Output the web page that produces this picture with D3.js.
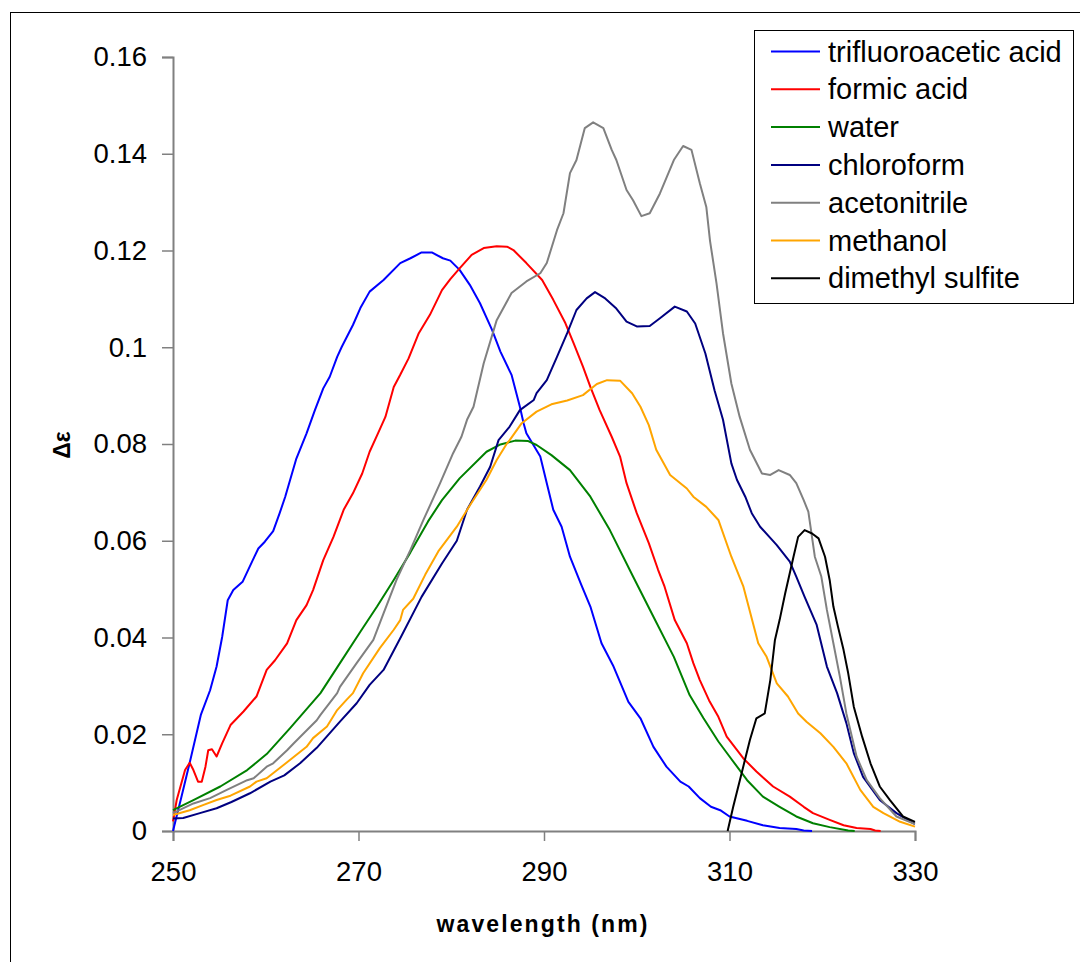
<!DOCTYPE html>
<html><head><meta charset="utf-8">
<script src="https://cdn.jsdelivr.net/npm/d3@7"></script>
<style>body{margin:0;background:#fff}svg{display:block}text{font-family:"Liberation Sans",Arial,sans-serif}</style>
</head><body>
<svg id="c" width="1080" height="962"></svg>
<script>
const xTicks = [250, 270, 290, 310, 330];
const yTicks = [0, 0.02, 0.04, 0.06, 0.08, 0.1, 0.12, 0.14, 0.16];
const yTickLabels = ["0", "0.02", "0.04", "0.06", "0.08", "0.1", "0.12", "0.14", "0.16"];
const seriesNames = ["trifluoroacetic acid", "formic acid", "water", "chloroform", "acetonitrile", "methanol", "dimethyl sulfite"];
const seriesColors = ["#0000FF", "#FF0000", "#008000", "#000080", "#808080", "#FFA500", "#000000"];

const trifluoroaceticAcid = [[250,0],[250.9,0.007],[251.8,0.0141],[253,0.024],[254,0.0291],[254.7,0.034],[255.3,0.0401],[255.9,0.0477],[256.5,0.0498],[257.5,0.0515],[258.6,0.056],[259.2,0.0584],[259.9,0.0598],[260.8,0.062],[261.5,0.0657],[262.1,0.0691],[263.3,0.077],[264.4,0.0822],[265.3,0.087],[266.2,0.0915],[266.9,0.0939],[267.7,0.098],[268.2,0.1001],[269.4,0.1046],[270.2,0.1081],[271.2,0.1115],[272.7,0.1139],[274.5,0.1174],[275.6,0.1184],[276.8,0.1196],[277.9,0.1196],[279.1,0.1184],[279.9,0.1179],[280.9,0.116],[282,0.1129],[283.1,0.1091],[284.4,0.1036],[285.3,0.0991],[286.5,0.0943],[287.4,0.0877],[287.8,0.0843],[288.1,0.0822],[289.6,0.0774],[290.3,0.0719],[291,0.0664],[291.9,0.0629],[292.8,0.0567],[294,0.051],[295,0.0464],[296.2,0.0388],[297.5,0.034],[299.1,0.0267],[300.4,0.0233],[301.8,0.0174],[303.2,0.0133],[304.7,0.0102],[305.6,0.0092],[306.8,0.0068],[308,0.005],[309,0.0043],[310,0.003],[311.9,0.0021],[313.6,0.0012],[315.4,0.0006],[317.2,0.0004],[318,0.0001],[318.9,0]];

const formicAcid = [[250,0.002],[250.4,0.0064],[251.3,0.0126],[251.8,0.0141],[252.2,0.0126],[252.7,0.0102],[253.1,0.0102],[253.5,0.0133],[253.8,0.0167],[254.2,0.0169],[254.7,0.0154],[255.3,0.0181],[256.2,0.0219],[257.6,0.0247],[259,0.0278],[260.1,0.0333],[261,0.0353],[262.3,0.0388],[263.3,0.0436],[264.4,0.0467],[265.1,0.0498],[266.2,0.056],[267.3,0.0608],[268.4,0.0664],[269.4,0.0698],[270.4,0.0739],[271.2,0.0784],[272.1,0.0822],[272.9,0.0856],[273.8,0.0918],[274.5,0.0943],[275.4,0.0977],[276.5,0.1029],[277.7,0.1067],[279,0.1118],[279.9,0.1141],[280.9,0.1163],[282.2,0.1191],[283.5,0.1205],[284.9,0.1209],[286,0.1208],[286.7,0.1201],[288.1,0.1174],[289.8,0.1139],[291,0.1098],[292.3,0.105],[293.2,0.1008],[294.2,0.096],[295,0.0918],[296,0.087],[297.3,0.0815],[298.2,0.0774],[298.9,0.0719],[300,0.0657],[301.3,0.0595],[302.3,0.054],[303,0.0505],[304.1,0.0436],[305.4,0.0388],[306.1,0.0347],[306.8,0.0312],[307.8,0.027],[308.8,0.0236],[309.7,0.0195],[311.5,0.015],[312.9,0.0123],[314.7,0.0092],[316.5,0.0071],[318,0.005],[319,0.0037],[320.8,0.0023],[322.3,0.0012],[323.7,0.0006],[325.2,0.0004],[325.7,0.0001],[326.3,0]];

const water = [[250,0.0043],[252.2,0.0064],[255.1,0.0092],[258,0.0126],[260.1,0.0159],[262.6,0.0212],[265.9,0.0285],[268,0.0347],[270.2,0.0412],[272,0.0464],[273.8,0.0519],[275.6,0.0576],[277.5,0.064],[279,0.0684],[280.9,0.0729],[283.8,0.0784],[285.3,0.0799],[286.9,0.0807],[288.3,0.0806],[289.2,0.0798],[290.8,0.0777],[292.8,0.0746],[295,0.0691],[297.1,0.0622],[299.6,0.0526],[301.8,0.0443],[304,0.036],[305.7,0.0281],[307.2,0.0233],[308.8,0.0185],[310,0.0154],[311.9,0.0105],[313.6,0.0071],[315.4,0.005],[317.2,0.003],[319,0.0016],[320.8,0.0008],[322.8,0.0001],[323.5,0]];

const chloroform = [[250,0.0026],[251.1,0.0027],[252.9,0.0037],[254.7,0.0047],[256.3,0.006],[258.3,0.0078],[260.5,0.0102],[262,0.0115],[263.7,0.014],[265.5,0.0172],[268,0.0226],[269.8,0.0264],[271.2,0.0302],[272.7,0.0333],[274.6,0.0402],[276.8,0.0484],[279,0.0553],[280.6,0.06],[281.7,0.0664],[283.1,0.0712],[284.2,0.0753],[285.1,0.0808],[286.3,0.0836],[287.4,0.087],[288.9,0.0891],[289.2,0.0905],[290.3,0.0932],[291.4,0.098],[292.5,0.1029],[293.5,0.1077],[294.6,0.1101],[295.5,0.1114],[296.6,0.1101],[297.8,0.108],[298.9,0.1053],[300,0.1043],[301.4,0.1044],[302.5,0.106],[304.1,0.1084],[305.4,0.1074],[306.3,0.1049],[307.4,0.0987],[308.4,0.091],[309.3,0.085],[310.2,0.076],[310.8,0.0726],[311.7,0.0691],[312.4,0.0657],[313.3,0.0629],[315.1,0.0591],[316.5,0.0557],[317.2,0.0526],[318.1,0.0484],[319.4,0.0426],[320.5,0.034],[321.6,0.0285],[322.6,0.0223],[323.4,0.0161],[324.4,0.0112],[326.2,0.0064],[328,0.0037],[329.8,0.0016],[330,0.0015]];

const acetonitrile = [[250,0.0037],[252.2,0.0057],[254,0.0068],[255.8,0.0085],[258,0.0105],[258.7,0.0109],[260.1,0.0133],[260.8,0.014],[262.3,0.0167],[263,0.0181],[264.1,0.0202],[265.5,0.0229],[265.9,0.024],[267.7,0.0285],[268,0.0298],[269.8,0.0347],[271.6,0.0395],[272.7,0.045],[274.1,0.0519],[275.6,0.0581],[277,0.0643],[278.8,0.0719],[280.2,0.0781],[281.1,0.0815],[281.7,0.085],[282.4,0.0877],[283.5,0.0967],[284.9,0.1056],[286.5,0.1112],[288.1,0.1136],[289.6,0.1153],[290.3,0.1174],[291.4,0.1242],[292.1,0.1277],[292.8,0.136],[293.5,0.1387],[294.4,0.1453],[295.3,0.1465],[296.4,0.1453],[297.3,0.1408],[297.8,0.1387],[298.9,0.1325],[299.6,0.1304],[300.5,0.1271],[301.4,0.1277],[302.5,0.1318],[304,0.1387],[305,0.1416],[305.9,0.1408],[306.8,0.1339],[307.5,0.129],[307.9,0.122],[308.6,0.1132],[309.3,0.1029],[310.2,0.0925],[311.1,0.0856],[312.2,0.0788],[313.5,0.0739],[314.4,0.0736],[315.3,0.0746],[316.5,0.0736],[317.2,0.0719],[318,0.0684],[318.5,0.066],[319.2,0.0567],[319.9,0.0526],[320.5,0.0457],[321.2,0.0388],[321.9,0.0319],[322.6,0.0243],[323.7,0.0154],[324.8,0.0105],[326.2,0.0068],[328,0.003],[329.8,0.0016],[330,0.0015]];

const methanol = [[250,0.0033],[251.8,0.0043],[253.3,0.0054],[254.7,0.0064],[256.2,0.0073],[258.3,0.0092],[259,0.0102],[260.1,0.0109],[262.3,0.0142],[264.4,0.0174],[265.1,0.0192],[266.6,0.0216],[267.7,0.025],[268.7,0.0271],[269.4,0.0285],[270.5,0.0326],[272.3,0.0378],[273.8,0.0416],[274.5,0.0436],[274.8,0.0457],[275.9,0.048],[277.2,0.053],[278.6,0.0578],[280.6,0.0629],[282,0.0673],[283.8,0.0726],[284.9,0.0767],[286,0.0801],[286.3,0.0808],[287.6,0.0843],[289.2,0.0867],[290.8,0.0882],[292.5,0.089],[294.2,0.0901],[295.7,0.0924],[296.8,0.0932],[298.2,0.0931],[299.5,0.0905],[300.4,0.0877],[301.3,0.0839],[302.1,0.0788],[303.6,0.0736],[304.7,0.0719],[305.4,0.0708],[306.1,0.0691],[307.5,0.067],[308.8,0.0643],[310.2,0.0567],[311.5,0.0505],[313.1,0.0388],[314,0.036],[315.1,0.0305],[316.3,0.0278],[317.4,0.0243],[318.3,0.0226],[319.8,0.0202],[321.2,0.0174],[322.6,0.014],[324.1,0.0085],[325.5,0.005],[326.6,0.0037],[328.4,0.0019],[330,0.0009]];

const dimethylSulfite = [[309.8,0],[310.4,0.005],[311.3,0.0119],[312.2,0.0188],[312.9,0.0233],[313.8,0.0243],[314.4,0.0312],[314.9,0.0395],[315.4,0.0436],[316,0.0491],[316.9,0.0567],[317.4,0.0608],[318.1,0.0622],[318.9,0.0615],[319.6,0.0605],[320.3,0.0567],[320.8,0.0519],[321.2,0.0464],[321.7,0.0422],[322.3,0.0374],[322.8,0.0326],[323.4,0.0257],[324.3,0.0195],[325.2,0.014],[326.2,0.0092],[327.3,0.0064],[328.7,0.003],[330,0.0019]];

const allSeries = [trifluoroaceticAcid, formicAcid, water, chloroform, acetonitrile, methanol, dimethylSulfite];

const svg = d3.select("#c");
// outer frame
svg.append("rect").attr("x", 10.5).attr("y", 12.5).attr("width", 1100).attr("height", 1000)
  .attr("fill", "#fff").attr("stroke", "#000").attr("stroke-width", 1);

const x = d3.scaleLinear().domain([250, 330]).range([173, 915]);
const y = d3.scaleLinear().domain([0, 0.16]).range([831, 57]);

const axisColor = "#808080";
// y axis
const ya = svg.append("g").attr("transform", "translate(173,0)")
  .call(d3.axisLeft(y).tickValues(yTicks).tickSize(11).tickPadding(15)
    .tickFormat((d, i) => yTickLabels[i]));
ya.select(".domain").attr("stroke", axisColor).attr("stroke-width", 2);
ya.selectAll(".tick line").attr("stroke", axisColor).attr("stroke-width", 1.5);
ya.selectAll(".tick text").attr("font-size", 27.5).attr("fill", "#000")
  .attr("font-family", "'Liberation Sans', Arial, sans-serif");

// x axis
const xa = svg.append("g").attr("transform", "translate(0,831)")
  .call(d3.axisBottom(x).tickValues(xTicks).tickSize(10).tickPadding(20).tickFormat(d3.format("d")));
xa.select(".domain").attr("stroke", axisColor).attr("stroke-width", 2);
xa.selectAll(".tick line").attr("stroke", axisColor).attr("stroke-width", 1.5);
xa.selectAll(".tick text").attr("font-size", 27.5).attr("fill", "#000")
  .attr("font-family", "'Liberation Sans', Arial, sans-serif");

// lines
const line = d3.line().x(d => x(d[0])).y(d => y(d[1]));
allSeries.forEach((s, i) => {
  svg.append("path").datum(s).attr("d", line).attr("fill", "none")
    .attr("stroke", seriesColors[i]).attr("stroke-width", 2).attr("stroke-linejoin", "round");
});

// axis titles
svg.append("text").attr("x", 542).attr("y", 932).attr("text-anchor", "middle")
  .attr("font-size", 23).attr("font-weight", "bold").attr("textLength", 211)
  .attr("lengthAdjust", "spacing").text("wavelength (nm)");
svg.append("text").attr("transform", "translate(70,445) rotate(-90)").attr("text-anchor", "middle")
  .attr("font-size", 23).attr("font-weight", "bold").text("Δε");

// legend
const lg = svg.append("g");
lg.append("rect").attr("x", 754.5).attr("y", 30.5).attr("width", 319).attr("height", 273)
  .attr("fill", "#fff").attr("stroke", "#000").attr("stroke-width", 1);
seriesNames.forEach((n, i) => {
  const cy = 51.5 + i * 37.8;
  lg.append("line").attr("x1", 771).attr("x2", 820).attr("y1", cy).attr("y2", cy)
    .attr("stroke", seriesColors[i]).attr("stroke-width", 2);
  lg.append("text").attr("x", 828).attr("y", cy).attr("dy", "0.35em")
    .attr("font-size", 29).attr("fill", "#000").text(n);
});
</script>
</body></html>
